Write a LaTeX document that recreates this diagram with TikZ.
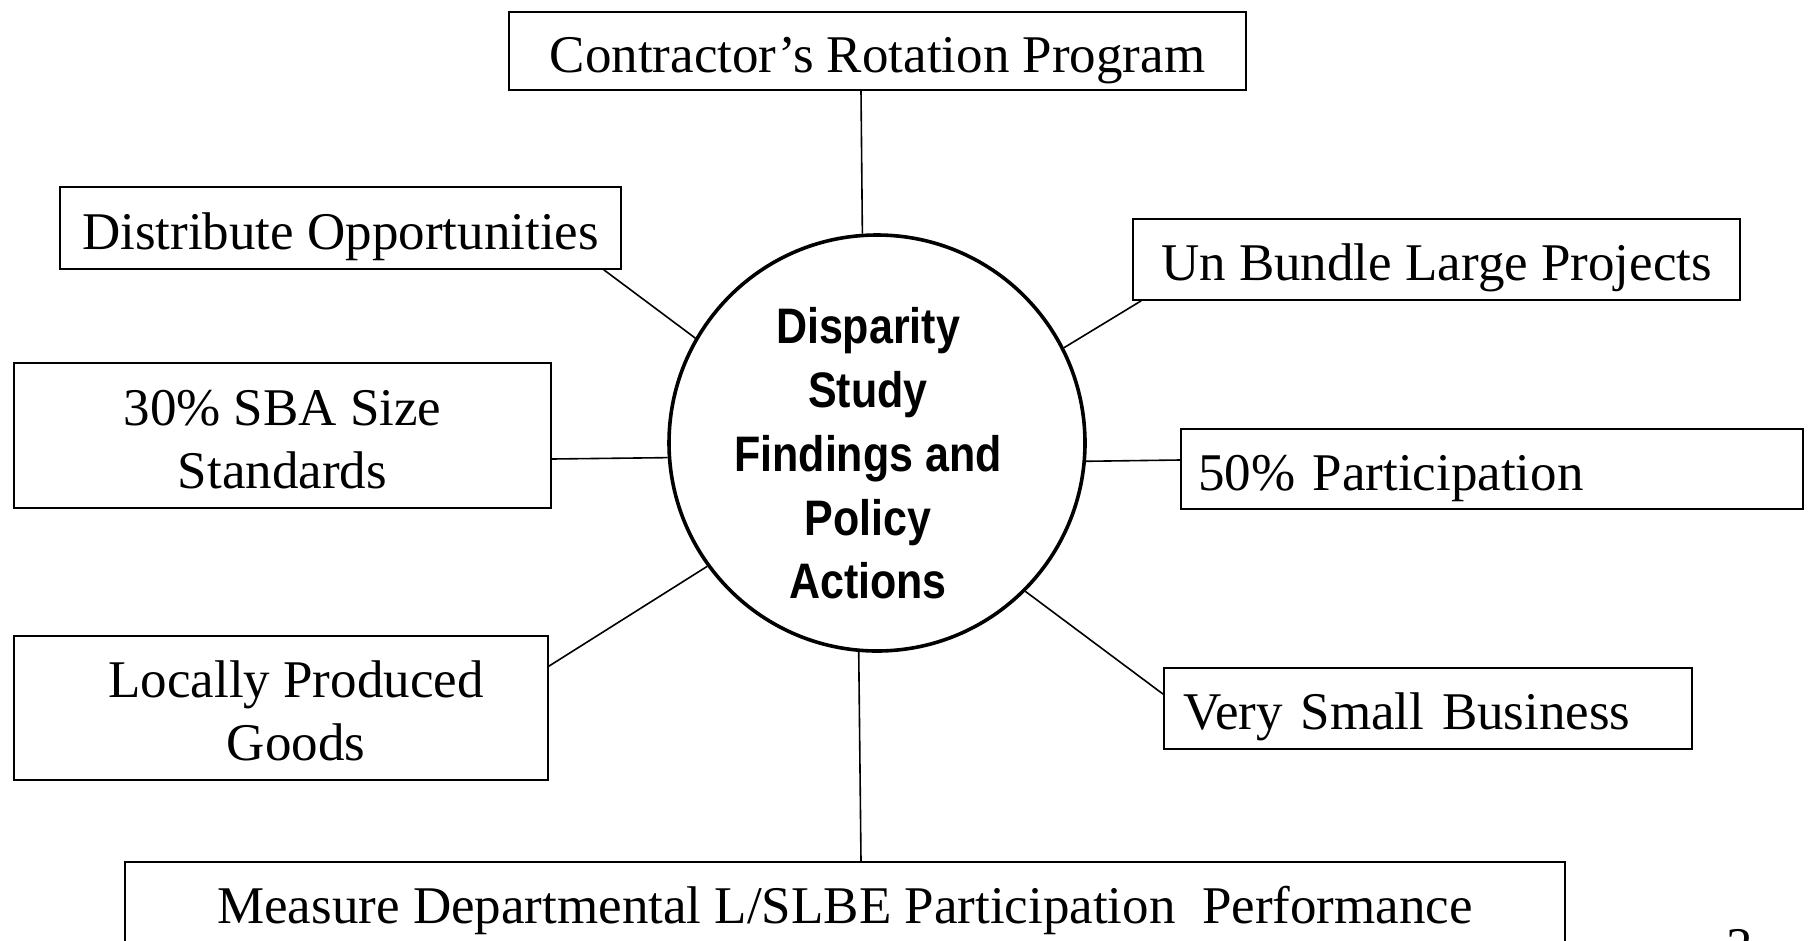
\documentclass[tikz,border=0pt]{standalone}
\usepackage{fontspec}
\usepackage{graphicx}
\setmainfont{Liberation Serif}
\newfontfamily\centerfont{Liberation Sans}
\begin{document}
\begin{tikzpicture}[x=1pt,y=-1pt,
  box/.style={draw, line width=1.6pt, inner sep=0pt, font=\fontsize{53}{63}\selectfont, text height=42pt, text depth=0pt},
  twoline/.style={box, align=center, text height=105pt, text depth=0pt},
  link/.style={line width=1.6pt}]
\fill[white] (0,0) rectangle (1809,940);
\useasboundingbox (0,0) rectangle (1809,940);
% centre
\node[circle, draw, line width=3.6pt, minimum size=416pt, inner sep=0pt] (c) at (877,443) {};
\node[inner sep=0pt, font=\centerfont\bfseries\fontsize{43}{55}\selectfont] (ctext) at (868,458.5)
  {\scalebox{1}[1.16]{\begin{tabular}{@{}c@{}}Disparity\\Study\\Findings and\\Policy\\Actions\end{tabular}}};
% boxes
\node[box, minimum width=737pt, minimum height=78pt] (crp) at (877.5,51) {Contractor’s Rotation Program};
\node[box, minimum width=561pt, minimum height=82pt] (dist) at (340.5,228) {Distribute Opportunities};
\node[box, minimum width=607pt, minimum height=81pt] (ub) at (1436.5,259.5) {Un Bundle Large Projects};
\node[twoline, minimum width=537pt, minimum height=145pt] (sba) at (282.5,435.5) {30\% SBA Size\\Standards};
\node[box, minimum width=622pt, minimum height=80pt, text width=588pt, align=left, inner xsep=17pt] (p50) at (1492,469) {50\% Participation};
\node[twoline, minimum width=534pt, minimum height=144pt] (loc) at (281,708) {\hspace*{30pt}Locally Produced\\\hspace*{30pt}Goods};
\node[box, minimum width=528pt, minimum height=81pt, text width=490pt, align=left, inner xsep=19pt] (vsb) at (1428,708.5) {Very Small Business};
\node[box, minimum width=1440pt, minimum height=80pt] (meas) at (845,902) {Measure Departmental L/SLBE Participation\ \ Performance};
\node[anchor=base, inner sep=0pt, font=\fontsize{53}{63}\selectfont] (pg) at (1740,964) {3};
% connectors
\draw[link] ([xshift=-16.5pt]crp.south) -- (c.94.4);
\draw[link] (c.265.6) -- ([xshift=16pt]meas.north);
\draw[link] ([xshift=-18pt]dist.south east) -- (c.150);
\draw[link] ([xshift=9pt]ub.south west) -- (c.27);
\draw[link] ([yshift=-23.5pt]sba.east) -- (c.184.4);
\draw[link] ([yshift=9pt]p50.west) -- (c.355.3);
\draw[link] ([yshift=-31pt]loc.north east) -- (c.216.3);
\draw[link] ([yshift=-27pt]vsb.north west) -- (c.315.4);
\end{tikzpicture}
\end{document}
